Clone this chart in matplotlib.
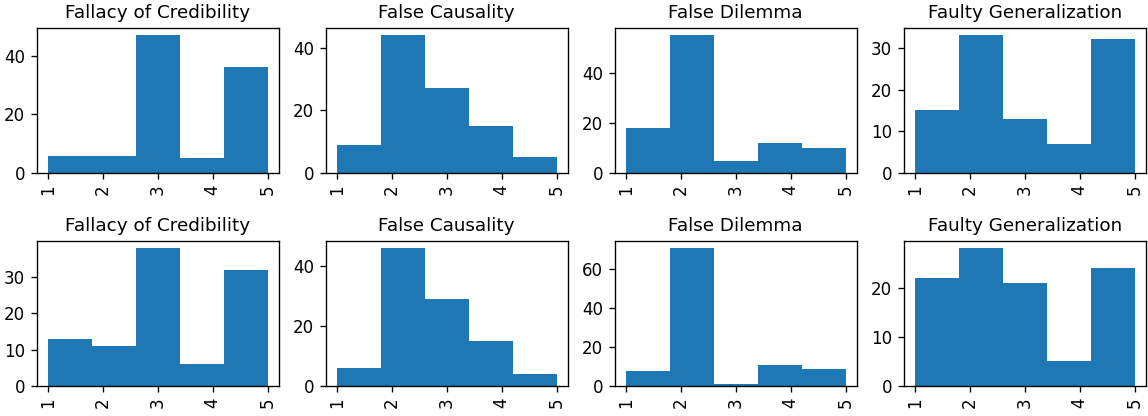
import matplotlib
matplotlib.use("Agg")
import matplotlib.pyplot as plt

# rating scale and per-fallacy counts (two annotation rounds)
ratings = [1, 2, 3, 4, 5]
fallacies = ["Fallacy of Credibility", "False Causality", "False Dilemma", "Faulty Generalization"]

counts_top = [
    [6, 6, 47, 5, 36],
    [9, 44, 27, 15, 5],
    [18, 55, 5, 12, 10],
    [15, 33, 13, 7, 32],
]
counts_bottom = [
    [13, 11, 38, 6, 32],
    [6, 46, 29, 15, 4],
    [8, 71, 1, 11, 9],
    [22, 28, 21, 5, 24],
]

fig, axes = plt.subplots(2, 4, figsize=(1148 / 120, 416 / 120), dpi=120)
fig.subplots_adjust(left=0.032, right=0.998, top=0.932, bottom=0.072,
                    wspace=0.195, hspace=0.47)

for row, counts in enumerate([counts_top, counts_bottom]):
    for col, name in enumerate(fallacies):
        ax = axes[row, col]
        ax.hist(ratings, bins=5, weights=counts[col], color="#1f77b4")
        ax.set_title(name, fontsize=11)
        ax.set_xticks(ratings)
        ax.tick_params(axis="x", labelrotation=90)

fig.savefig("out.png")
